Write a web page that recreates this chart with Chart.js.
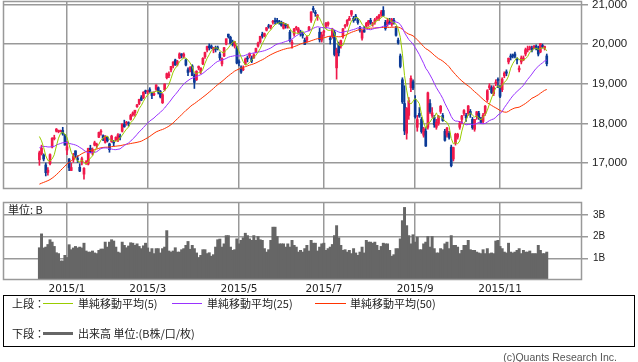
<!DOCTYPE html>
<html lang="ja">
<head>
<meta charset="utf-8">
<title>日経平均 2015</title>
<script src="https://cdn.jsdelivr.net/npm/chart.js@4.4.1/dist/chart.umd.min.js"></script>
<style>
  html, body { margin: 0; padding: 0; background: #fff; }
  #wrap { position: relative; width: 638px; height: 362px; overflow: hidden; font-family: "Noto Sans CJK JP", sans-serif; color: #222; }
  #cMain { position: absolute; left: 0; top: -10px; }
  #cVol { position: absolute; left: 0; top: 191px; }
  .t { position: absolute; font-size: 11px; line-height: 14px; white-space: nowrap; }
  .ln { position: absolute; width: 30px; height: 1px; }
  #legendBox { position: absolute; left: 3px; top: 295px; width: 632px; height: 52px; border: 1px solid #000; box-sizing: border-box; }
  #copy { position: absolute; left: 440px; width: 177px; top: 351px; text-align: right; font: 10.5px "Liberation Sans", sans-serif; color: #555; }
</style>
</head>
<body>
<div id="wrap">
  <canvas id="cMain" width="638" height="210"></canvas>
  <canvas id="cVol" width="638" height="105"></canvas>
  <div class="t" style="left:8px; top:202px;">単位: B</div>

  <div id="legendBox"></div>
  <div class="t" style="left:12px; top:296px;">上段：</div>
  <div class="ln" style="left:43px; top:303px; background:#99cc00;"></div>
  <div class="t" style="left:78px; top:296px;">単純移動平均(5)</div>
  <div class="ln" style="left:172px; top:303px; background:#9933ff;"></div>
  <div class="t" style="left:207px; top:296px;">単純移動平均(25)</div>
  <div class="ln" style="left:315px; top:303px; width:31px; background:#ff3300;"></div>
  <div class="t" style="left:350px; top:296px;">単純移動平均(50)</div>
  <div class="t" style="left:12px; top:326px;">下段：</div>
  <div class="ln" style="left:43px; top:332px; height:3px; background:#666;"></div>
  <div class="t" style="left:78px; top:326px;">出来高 単位:(B株/口/枚)</div>

  <div id="copy">(c)Quants Research Inc.</div>
</div>

<script>
// 営業日（2014/12/11 〜 2015/12/4）
const monthLabels = ['2014/12', '2015/1', '2015/2', '2015/3', '2015/4', '2015/5', '2015/6',
                     '2015/7', '2015/8', '2015/9', '2015/10', '2015/11', '2015/12'];
const monthDays = [
    [11,12,15,16,17,18,19,22,24,25,26,29,30],
    [5,6,7,8,9,13,14,15,16,19,20,21,22,23,26,27,28,29,30],
    [2,3,4,5,6,9,10,12,13,16,17,18,19,20,23,24,25,26,27],
    [2,3,4,5,6,9,10,11,12,13,16,17,18,19,20,23,24,25,26,27,30,31],
    [1,2,3,6,7,8,9,10,13,14,15,16,17,20,21,22,23,24,27,28,30],
    [1,7,8,11,12,13,14,15,18,19,20,21,22,25,26,27,28,29],
    [1,2,3,4,5,8,9,10,11,12,15,16,17,18,19,22,23,24,25,26,29,30],
    [1,2,3,6,7,8,9,10,13,14,15,16,17,21,22,23,24,27,28,29,30,31],
    [3,4,5,6,7,10,11,12,13,14,17,18,19,20,21,24,25,26,27,28,31],
    [1,2,3,4,7,8,9,10,11,14,15,16,17,18,24,25,28,29,30],
    [1,2,5,6,7,8,9,13,14,15,16,19,20,21,22,23,26,27,28,29,30],
    [2,4,5,6,9,10,11,12,13,16,17,18,19,20,24,25,26,27,30],
    [1,2,3,4]
];

const opens = [
    17080,17230,17200,16950,16760,16980,17400,17610,17800,17790,17790,17820,17700,
    17325,17101,16809,17077,17306,17089,16890,17029,16718,17000,16970,17370,17250,17450,17440,17650,17780,17690,17520,
    17650,17480,17540,17510,17580,17580,17680,17800,17980,18000,18000,18100,18220,18270,18420,18500,18650,18650,18820,
    18790,18850,18770,18720,18860,18900,18800,18520,18850,19150,19200,19350,19450,19600,19500,19650,19750,19690,19600,19350,19350,19450,
    19200,19100,19400,19300,19500,19680,19850,19950,19950,19850,19900,19900,19750,19500,19700,20000,20250,20170,20050,19950,19900,
    19550,19400,19350,19500,19650,19700,19650,19650,19800,19950,20050,20250,20200,20350,20450,20430,20550,20580,
    20600,20550,20550,20400,20500,20420,20300,20000,20250,20400,20300,20300,20250,20100,20100,20350,20600,20900,20800,20700,20300,20100,
    20300,20450,20500,20150,20200,20300,19400,20000,19950,20200,20450,20500,20600,20750,20650,20700,20600,20400,20150,20350,20450,20500,
    20600,20500,20550,20650,20650,20750,20850,20550,20500,20550,20500,20600,20400,20100,19700,19100,18500,17750,18200,18900,19050,
    18600,17900,18250,18100,17700,17800,17900,18500,18200,18150,17900,18000,18300,18200,17800,17700,17750,17400,17100,
    17500,17650,17900,18100,18250,18200,18250,18300,18100,17850,18200,18250,18100,18050,18250,18600,18900,18900,18750,19000,19100,
    18900,18850,19200,19300,19550,19700,19700,19750,19600,19350,19550,19600,19750,19850,19900,19900,19900,19950,19900,
    19800,19950,19900,19700
];
const highs = [
    17300,17450,17230,17000,16880,17230,17640,17700,17870,17830,17830,17900,17720,
    17540,17111,16994,17243,17306,17182,16980,17146,16883,17057,17374,17447,17380,17550,17500,17780,17840,17710,17690,
    17666,17500,17700,17570,17660,17740,17730,17990,18080,18050,18040,18230,18290,18330,18480,18610,18700,18800,18840,
    18830,18900,18790,18800,18970,18920,18830,18750,19000,19270,19300,19440,19560,19620,19590,19780,19760,19778,19620,19400,19430,19480,
    19250,19330,19450,19400,19660,19800,19950,20006,19980,19920,19950,19950,19800,19650,19920,20133,20252,20200,20100,20070,19950,
    19600,19450,19450,19650,19700,19780,19700,19760,19900,20050,20200,20300,20280,20420,20500,20480,20600,20655,
    20650,20600,20580,20550,20520,20500,20350,20100,20400,20450,20420,20350,20300,20150,20200,20450,20820,20952,20850,20750,20400,20300,
    20350,20550,20560,20200,20400,20350,19900,20050,20100,20400,20500,20620,20700,20850,20700,20750,20650,20450,20350,20450,20550,20600,
    20650,20550,20650,20700,20750,20850,20946,20600,20650,20650,20650,20650,20450,20150,19750,19150,18950,18400,18650,19200,19100,
    18700,18200,18400,18150,17900,17900,18790,18600,18400,18200,18100,18200,18450,18250,17850,17900,17800,17450,17400,
    17750,17750,18050,18200,18350,18250,18450,18350,18150,18100,18300,18300,18150,18250,18450,18850,19000,18950,18950,19100,19150,
    18950,19150,19300,19350,19650,19750,19750,19800,19650,19450,19700,19700,19900,19950,19950,19950,19970,19980,19950,
    20012,20000,19950,19750
];
const lows = [
    16940,17200,17050,16672,16690,16950,17380,17580,17780,17760,17780,17700,17450,
    17210,16808,16808,17016,17135,17011,16780,16953,16592,16960,16949,17255,17200,17430,17380,17640,17700,17560,17500,
    17528,17270,17520,17430,17560,17540,17580,17780,17900,17950,17930,18080,18180,18180,18400,18470,18570,18620,18750,
    18740,18780,18620,18700,18830,18740,18640,18500,18820,19120,19150,19300,19400,19460,19450,19630,19650,19650,19450,19200,19300,19200,
    18880,19080,19350,19250,19480,19640,19800,19850,19880,19780,19800,19850,19600,19450,19680,19980,20150,20000,19950,19900,19500,
    19450,19260,19330,19480,19550,19650,19530,19640,19780,19920,20030,20150,20180,20330,20400,20380,20500,20500,
    20520,20500,20450,20380,20400,20400,20050,19900,20200,20350,20280,20200,20150,19990,20050,20330,20550,20800,20700,20600,20050,20050,
    20200,20400,20450,20000,20150,19700,19115,19700,19900,20150,20400,20450,20600,20700,20550,20600,20500,20300,20100,20300,20420,20450,
    20500,20450,20500,20600,20600,20700,20700,20350,20450,20500,20450,20500,20200,20000,19400,18500,17714,17600,18100,18800,18850,
    18130,17800,18150,17750,17650,17415,17850,18250,18150,17900,17850,17950,18250,18050,17550,17650,17600,16901,17050,
    17450,17600,17850,18000,18200,18050,18200,18150,17850,17800,18100,18100,18000,18000,18200,18550,18850,18750,18700,18950,18900,
    18650,18800,19150,19200,19500,19600,19650,19650,19500,19300,19500,19580,19700,19800,19850,19800,19880,19850,19700,
    19780,19900,19850,19450
];
const closes = [
    17257,17371,17099,16755,16819,17210,17621,17635,17854,17808,17818,17730,17451,
    17408,16883,16885,17167,17197,17087,16795,17108,16864,17014,17366,17280,17329,17511,17468,17768,17795,17606,17674,
    17558,17335,17678,17504,17648,17711,17652,17979,17913,18004,17987,18199,18264,18332,18466,18603,18585,18785,18797,
    18826,18815,18703,18751,18971,18790,18665,18723,18991,19254,19246,19437,19544,19476,19560,19754,19713,19746,19471,19285,19411,19206,
    19034,19312,19435,19397,19640,19789,19937,19907,19905,19908,19869,19885,19653,19634,19909,20133,20187,20020,19983,20058,19520,
    19531,19292,19379,19620,19624,19764,19570,19732,19890,20026,20196,20202,20264,20413,20437,20473,20551,20563,
    20569,20543,20473,20488,20460,20457,20096,20046,20383,20407,20387,20257,20219,19990,20174,20428,20809,20868,20771,20706,20109,20235,
    20329,20522,20539,20112,20376,19737,19855,19779,20089,20385,20463,20600,20650,20841,20593,20683,20544,20350,20328,20303,20522,20585,
    20548,20520,20614,20664,20724,20808,20720,20392,20595,20519,20620,20554,20222,20033,19435,18540,17806,18376,18574,19136,18890,
    18165,18095,18182,17792,17860,17427,18770,18299,18264,17965,18026,18171,18432,18070,17571,17880,17645,16930,17388,
    17722,17725,18005,18186,18322,18141,18438,18234,17891,18096,18291,18131,18029,18207,18435,18825,18947,18777,18903,19041,19083,
    18683,19116,19265,19265,19642,19671,19697,19691,19597,19393,19649,19649,19859,19879,19924,19847,19944,19883,19747,
    20012,19938,19939,19504
];
// 移動平均の計算用（表示開始前の49営業日の終値）
const priorCloses = [
    16174,
    16082,15661,15709,15890,15784,15595,15479,15300,14936,15073,14738,14532,15111,14804,15195,15138,15291,15388,15329,15553,15658,16413,
    16862,16937,16792,16880,16780,17124,17197,17392,17490,16973,17344,17288,17300,17357,17407,17383,17248,17459,
    17590,17663,17720,17887,17920,17935,17813,17412
];
// 出来高（B株）
const volumes = [
    1.49,2.13,1.48,1.52,1.64,1.86,1.75,1.55,1.26,1.22,0.88,0.88,1.14,1.04,1.63,1.40,1.48,1.55,1.48,1.52,
    1.48,1.70,1.34,1.29,1.29,1.34,1.25,1.22,1.37,1.43,1.43,1.75,1.52,1.75,1.86,1.80,1.52,1.29,1.25,1.75,
    1.60,1.49,1.57,1.72,1.70,1.60,1.67,1.55,1.45,1.58,1.70,1.48,1.29,1.45,1.22,1.45,1.45,1.25,1.45,1.52,
    2.28,1.34,1.29,1.34,1.49,1.29,1.29,1.40,1.45,1.60,1.78,1.42,1.60,1.45,1.25,1.04,1.14,1.40,1.40,1.22,
    1.26,1.10,1.17,1.52,1.86,1.89,1.52,1.67,2.05,2.05,1.52,1.37,1.40,1.90,1.67,1.83,1.95,2.16,2.05,1.90,
    1.83,2.05,1.83,2.01,1.86,1.83,1.45,1.29,1.40,1.83,2.44,2.44,2.01,1.67,1.67,1.67,1.52,1.67,1.52,1.83,
    1.60,1.52,1.29,1.37,1.29,1.45,1.60,1.34,1.83,1.70,1.70,1.34,1.52,1.67,1.70,1.37,1.45,1.52,1.64,2.05,
    2.51,1.95,1.60,1.37,1.40,1.29,1.37,1.22,1.45,1.25,1.14,1.29,1.52,1.25,1.83,1.75,1.75,1.70,1.75,1.60,
    1.37,1.55,1.70,1.67,1.67,1.37,1.10,1.17,1.45,1.45,1.90,2.74,3.35,2.51,2.05,1.67,2.09,1.75,1.98,1.40,
    1.40,1.67,1.75,2.01,1.52,2.01,1.45,1.25,1.25,1.45,1.40,1.67,1.75,1.45,2.05,1.60,1.60,1.52,1.22,1.37,
    1.60,1.60,1.83,1.40,1.37,1.37,1.29,1.25,1.22,1.40,1.22,1.45,1.22,1.25,1.22,1.80,1.83,1.55,1.45,1.29,
    1.25,1.70,1.29,1.25,1.29,1.37,1.45,1.22,1.37,1.29,1.29,1.34,1.22,1.22,1.22,1.60,1.37,1.22,1.22,1.29
];
const priceTicks = [17000, 18000, 19000, 20000, 21000];
const volTicks   = [1, 2, 3];

const RED  = '#f0194b';
const BLUE = '#0b3a96';
const GRID = '#999';
const X_MIN = -17.15, X_MAX = 255.6;

// 奇数月の最初の営業日に目盛り
const tickMarks = [];
let pos = 0;
monthLabels.forEach((m, k) => {
    const [yy, mm] = m.split('/').map(Number);
    if (yy === 2015 && mm % 2 === 1) tickMarks.push({ value: pos, label: m });
    pos += monthDays[k].length;
});

const colors = closes.map((c, i) => c >= opens[i] ? RED : BLUE);
const wicks  = closes.map((c, i) => ({ x: i, y: [lows[i], highs[i]] }));
const bodies = closes.map((c, i) => ({ x: i, y: [Math.min(opens[i], c), Math.max(opens[i], c)] }));
const volData = volumes.map((v, i) => ({ x: i, y: v }));

function sma(n) {
    const all = priorCloses.concat(closes);
    const off = priorCloses.length;
    return closes.map((c, i) => {
        let s = 0;
        for (let k = off + i - n + 1; k <= off + i; k++) s += all[k];
        return { x: i, y: s / n };
    });
}

// プロット枠
const frame = {
    id: 'frame',
    afterDraw(chart) {
        const { ctx, chartArea: a } = chart;
        ctx.save();
        ctx.strokeStyle = GRID;
        ctx.lineWidth = 1.5;
        ctx.strokeRect(Math.round(a.left) + 0.5, Math.round(a.top) + 0.5,
                       Math.round(a.right - a.left) - 1, Math.round(a.bottom - a.top) - 1);
        ctx.restore();
    }
};

// 目盛りと範囲を固定する
function fixTicks(values, min, max) {
    return s => {
        s.ticks = values.map(v => ({ value: v }));
        s.min = min;
        s.max = max;
    };
}

function xScale(showLabels) {
    return {
        type: 'linear',
        min: X_MIN,
        max: X_MAX,
        bounds: 'data',
        offset: false,
        afterBuildTicks: fixTicks(tickMarks.map(t => t.value), X_MIN, X_MAX),
        afterFit: s => { s.height = showLabels ? 16 : 0; },
        grid: { color: GRID, lineWidth: 1.5, drawTicks: false, offset: false },
        border: { display: false },
        ticks: {
            display: showLabels,
            autoSkip: false,
            maxRotation: 0,
            padding: 3,
            color: '#222',
            font: { family: 'DejaVu Sans', size: 10.5 },
            callback: v => {
                const t = tickMarks.find(t => t.value === v);
                return t ? t.label : '';
            }
        }
    };
}

const common = {
    responsive: false,
    animation: false,
    events: [],
    plugins: { legend: { display: false }, tooltip: { enabled: false } }
};

new Chart(document.getElementById('cMain'), {
    type: 'bar',
    data: {
        datasets: [
            { type: 'line', data: sma(5),  borderColor: '#99cc00', borderWidth: 1, pointRadius: 0, tension: 0, order: 0 },
            { type: 'line', data: sma(25), borderColor: '#9933ff', borderWidth: 1, pointRadius: 0, tension: 0, order: 0 },
            { type: 'line', data: sma(50), borderColor: '#ff3300', borderWidth: 1, pointRadius: 0, tension: 0, order: 0 },
            { data: bodies, backgroundColor: colors, barThickness: 2, minBarLength: 1, grouped: false, order: 1 },
            { data: wicks,  backgroundColor: colors, barThickness: 1, grouped: false, order: 2 }
        ]
    },
    options: {
        ...common,
        layout: { padding: { left: 3, top: 10, bottom: 10, right: 0 } },
        scales: {
            x: xScale(false),
            y: {
                position: 'right',
                min: 16340,
                max: 21090,
                bounds: 'data',
                afterBuildTicks: fixTicks(priceTicks, 16340, 21090),
                afterFit: s => { s.width = 56; },
                grid: { color: GRID, lineWidth: 1.5, tickLength: 6 },
                border: { display: false },
                ticks: {
                    padding: 4,
                    color: '#222',
                    font: { family: 'Liberation Sans', size: 11.5 },
                    callback: v => v.toLocaleString('en-US')
                }
            }
        }
    },
    plugins: [frame]
});

new Chart(document.getElementById('cVol'), {
    type: 'bar',
    data: {
        datasets: [
            { data: volData, backgroundColor: '#666', barThickness: 2.3, grouped: false }
        ]
    },
    options: {
        ...common,
        layout: { padding: { left: 3, top: 10, bottom: 0, right: 0 } },
        scales: {
            x: xScale(true),
            y: {
                position: 'right',
                min: 0,
                max: 3.6,
                bounds: 'data',
                afterBuildTicks: fixTicks(volTicks, 0, 3.6),
                afterFit: s => { s.width = 56; },
                grid: { color: GRID, lineWidth: 1.5, tickLength: 6 },
                border: { display: false },
                ticks: {
                    padding: 5,
                    color: '#222',
                    font: { family: 'Liberation Sans', size: 10 },
                    callback: v => v + 'B'
                }
            }
        }
    },
    plugins: [frame]
});
</script>
</body>
</html>
